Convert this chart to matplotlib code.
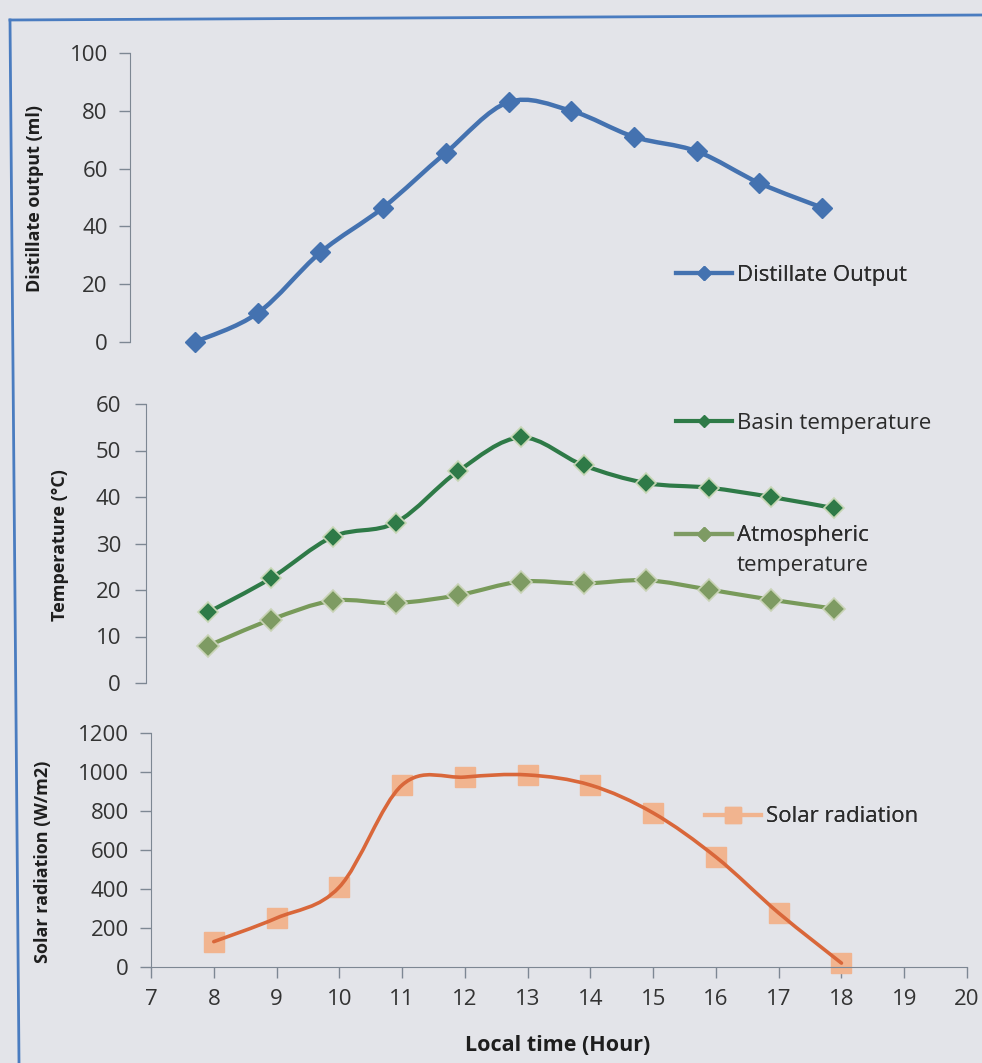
import numpy as np
import matplotlib.pyplot as plt
from matplotlib.path import Path
from matplotlib.patches import PathPatch
from matplotlib.lines import Line2D

plt.rcParams['font.family'] = ['Open Sans', 'DejaVu Sans']

# Hourly readings, 8:00 to 18:00
hours = [8, 9, 10, 11, 12, 13, 14, 15, 16, 17, 18]
distillate = [0, 10, 31, 46.5, 65.5, 83, 80, 71, 66, 55, 46.5]
basin_temp = [15.2, 22.5, 31.5, 34.5, 45.6, 52.8, 46.8, 43.0, 42.0, 40.0, 37.6]
atmos_temp = [8.0, 13.6, 17.7, 17.2, 18.9, 21.8, 21.4, 22.1, 20.1, 17.9, 16.0]
solar = [130, 251, 410, 933, 974, 985, 933, 790, 564, 277, 20]

W, H = 982, 1063
BG = '#E3E4E9'
AXIS_C = '#7D8793'
TICK_C = '#333333'
TXT = 16          # tick and legend text size
LBL = 13          # bold axis titles


def px_rect(left, top, right, bottom):
    return [left / W, 1 - bottom / H, (right - left) / W, (bottom - top) / H]


def smooth_path(x, y):
    # Excel-style smoothed line: cubic Bezier segments with Catmull-Rom tangents
    pts = np.column_stack([x, y]).astype(float)
    n = len(pts)
    verts = [pts[0]]
    codes = [Path.MOVETO]
    for i in range(n - 1):
        p0 = pts[max(i - 1, 0)]
        p1 = pts[i]
        p2 = pts[i + 1]
        p3 = pts[min(i + 2, n - 1)]
        verts += [p1 + (p2 - p0) / 6, p2 - (p3 - p1) / 6, p2]
        codes += [Path.CURVE4] * 3
    return Path(verts, codes)


def style_axis(ax, show_x, ypad=8):
    ax.set_facecolor('none')
    for side in ['top', 'right']:
        ax.spines[side].set_visible(False)
    ax.spines['left'].set_color(AXIS_C)
    ax.spines['bottom'].set_color(AXIS_C)
    ax.spines['bottom'].set_visible(show_x)
    ax.tick_params(axis='y', direction='out', length=8, width=1, color=AXIS_C,
                   labelsize=TXT, labelcolor=TICK_C, pad=ypad)
    if show_x:
        ax.tick_params(axis='x', direction='out', length=8, width=1, color=AXIS_C,
                       labelsize=TXT, labelcolor=TICK_C, pad=8)
    else:
        ax.tick_params(axis='x', bottom=False, labelbottom=False)


fig = plt.figure(figsize=(W / 100, H / 100), dpi=100, facecolor=BG)

# ---- distillate output ----
ax1 = fig.add_axes(px_rect(130, 53, 967, 342))
style_axis(ax1, False, ypad=8)
ax1.set_xlim(8 - 65 / 62.7, 8 + 772 / 62.7)
ax1.set_ylim(0, 100)
ax1.set_yticks(range(0, 101, 20))
ax1.add_patch(PathPatch(smooth_path(hours, distillate), fill=False,
                        edgecolor='#4472B0', lw=3.2, capstyle='round'))
ax1.plot(hours, distillate, ls='none', marker='D', ms=10, color='#4472B0',
         clip_on=False)
ax1.set_ylabel('Distillate output (ml)', fontsize=LBL, fontweight='bold',
               color='#1E1E1E')
ax1.yaxis.set_label_coords(44 / W, 1 - 198 / H, transform=fig.transFigure)

# ---- temperatures ----
ax2 = fig.add_axes(px_rect(146, 404, 967, 683))
style_axis(ax2, False, ypad=10)
ax2.set_xlim(8 - 62 / 62.6, 8 + 759 / 62.6)
ax2.set_ylim(0, 60)
ax2.set_yticks(range(0, 61, 10))
ax2.add_patch(PathPatch(smooth_path(hours, atmos_temp), fill=False,
                        edgecolor='#789A5A', lw=3, capstyle='round'))
ax2.plot(hours, atmos_temp, ls='none', marker='D', ms=11, color='#7E9B63',
         mec='#C9D3B6', mew=1.2, clip_on=False)
ax2.add_patch(PathPatch(smooth_path(hours, basin_temp), fill=False,
                        edgecolor='#2E7A47', lw=3, capstyle='round'))
ax2.plot(hours, basin_temp, ls='none', marker='D', ms=10, color='#2E7A47',
         mec='#C6D6B4', mew=1.2, clip_on=False)
ax2.set_ylabel('Temperature (\u00b0C)', fontsize=LBL, fontweight='bold',
               color='#1E1E1E')
ax2.yaxis.set_label_coords(69 / W, 1 - 545 / H, transform=fig.transFigure)

# ---- solar radiation ----
ax3 = fig.add_axes(px_rect(151, 733, 967, 967))
style_axis(ax3, True, ypad=8)
ax3.set_xlim(7, 20)
ax3.set_xticks(range(7, 21))
ax3.set_ylim(0, 1200)
ax3.set_yticks(range(0, 1201, 200))
ax3.plot(hours, solar, ls='none', marker='s', ms=15, color='#F1B48F',
         clip_on=False, zorder=2)
ax3.add_patch(PathPatch(smooth_path(hours, solar), fill=False,
                        edgecolor='#D9673A', lw=2.6, capstyle='round', zorder=3))
ax3.set_ylabel('Solar radiation (W/m2)', fontsize=LBL, fontweight='bold',
               color='#1E1E1E')
ax3.yaxis.set_label_coords(52 / W, 1 - 862 / H, transform=fig.transFigure)
ax3.set_xlabel('Local time (Hour)', fontsize=15.5, fontweight='bold',
               color='#1E1E1E')
ax3.xaxis.set_label_coords(558 / W, 1 - 1035 / H, transform=fig.transFigure)


def add_legend(ax, handle, label, x, y):
    leg = ax.legend([handle], [label], loc='center left',
                    bbox_to_anchor=(x / W, 1 - y / H),
                    bbox_transform=fig.transFigure, frameon=False,
                    fontsize=TXT, handlelength=2.5, handletextpad=0.25,
                    borderpad=0, borderaxespad=0, labelcolor='#2B2B2B')
    ax.add_artist(leg)
    return leg


add_legend(ax1, Line2D([], [], color='#4472B0', lw=3, marker='D', ms=7),
           'Distillate Output', 676, 275)
add_legend(ax2, Line2D([], [], color='#2E7A47', lw=3, marker='D', ms=6),
           'Basin temperature', 676, 423)
add_legend(ax2, Line2D([], [], color='#7E9B63', lw=3, marker='D', ms=7),
           'Atmospheric', 676, 536)
fig.text(737 / W, 1 - 565 / H, 'temperature', fontsize=TXT, color='#2B2B2B',
         va='center', ha='left')
add_legend(ax3, Line2D([], [], color='#F1B48F', lw=3, marker='s', ms=11),
           'Solar radiation', 705, 817)

# scanned frame around the chart
fig.add_artist(Line2D([10 / W, 19 / W], [1 - 20 / H, 0], transform=fig.transFigure,
                      color='#4A7CC0', lw=2))
fig.add_artist(Line2D([10 / W, 1], [1 - 20 / H, 1 - 15 / H], transform=fig.transFigure,
                      color='#4A7CC0', lw=2))

fig.savefig('out.png', dpi=100, facecolor=BG)
